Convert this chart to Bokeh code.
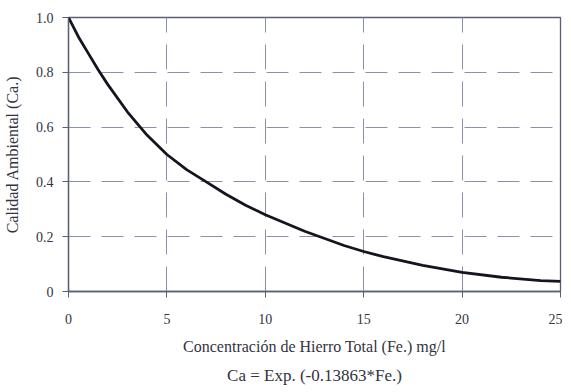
from bokeh.plotting import figure
from bokeh.models import Range1d, FixedTicker, Title
from bokeh.embed import file_html
from bokeh.resources import INLINE

# Values
fe = [0, 0.5, 1, 1.5, 2, 3, 4, 5, 6, 7, 8, 9, 10, 12, 14, 15, 16, 18, 20, 22, 24, 25]
ca = [1.0, 0.93, 0.87, 0.81, 0.755, 0.655, 0.57, 0.50, 0.445, 0.40, 0.355, 0.315, 0.28,
      0.22, 0.168, 0.146, 0.127, 0.095, 0.070, 0.052, 0.040, 0.037]

x_ticks = [0, 5, 10, 15, 20, 25]
y_ticks = [0, 0.2, 0.4, 0.6, 0.8, 1.0]
y_tick_labels = {0: "0", 0.2: "0.2", 0.4: "0.4", 0.6: "0.6", 0.8: "0.8", 1.0: "1.0"}

FONT = "Liberation Serif"
AX = "#5a5f75"
GRID = "#8c90aa"
TXT = "#333340"

p = figure(frame_width=492, frame_height=274, output_backend="svg", toolbar_location=None,
           x_range=Range1d(0, 25), y_range=Range1d(0, 1.0),
           min_border_left=66, min_border_right=2, min_border_top=17, min_border_bottom=0)

p.line(fe, ca, line_color="#15151f", line_width=2.8)

p.xaxis.ticker = FixedTicker(ticks=x_ticks)
p.yaxis.ticker = FixedTicker(ticks=y_ticks)
p.yaxis.major_label_overrides = y_tick_labels

for ax in (p.xaxis, p.yaxis):
    ax.axis_line_color = AX
    ax.axis_line_width = 1.3
    ax.major_tick_line_color = AX
    ax.major_tick_in = 0
    ax.major_tick_out = 6
    ax.minor_tick_line_color = None
    ax.major_label_text_font = FONT
    ax.major_label_text_font_size = "14px"
    ax.major_label_text_color = TXT
    ax.axis_label_text_font = FONT
    ax.axis_label_text_font_style = "normal"
    ax.axis_label_text_color = TXT

p.xaxis.axis_label = "Concentración de Hierro Total (Fe.) mg/l"
p.yaxis.axis_label = "Calidad Ambiental (Ca.)"
p.xaxis.axis_label_text_font_size = "16px"
p.yaxis.axis_label_text_font_size = "16px"
p.xaxis.major_label_standoff = 16
p.yaxis.major_label_standoff = 9
p.xaxis.axis_label_standoff = 11
p.yaxis.axis_label_standoff = 12

p.xgrid.ticker = FixedTicker(ticks=[5, 10, 15, 20])
p.ygrid.ticker = FixedTicker(ticks=[0.2, 0.4, 0.6, 0.8])
p.xgrid.grid_line_color = GRID
p.ygrid.grid_line_color = GRID
p.xgrid.grid_line_dash = "25 12"
p.ygrid.grid_line_dash = "22 11"
p.xgrid.grid_line_width = 1
p.ygrid.grid_line_width = 1

p.outline_line_color = AX
p.outline_line_width = 1.3

formula = Title(text="Ca = Exp. (-0.13863*Fe.)", align="center", text_font=FONT,
                text_font_size="17px", text_font_style="normal", text_color=TXT,
                standoff=13)
p.add_layout(formula, "below")

open("out.html", "w").write(file_html(p, INLINE))
